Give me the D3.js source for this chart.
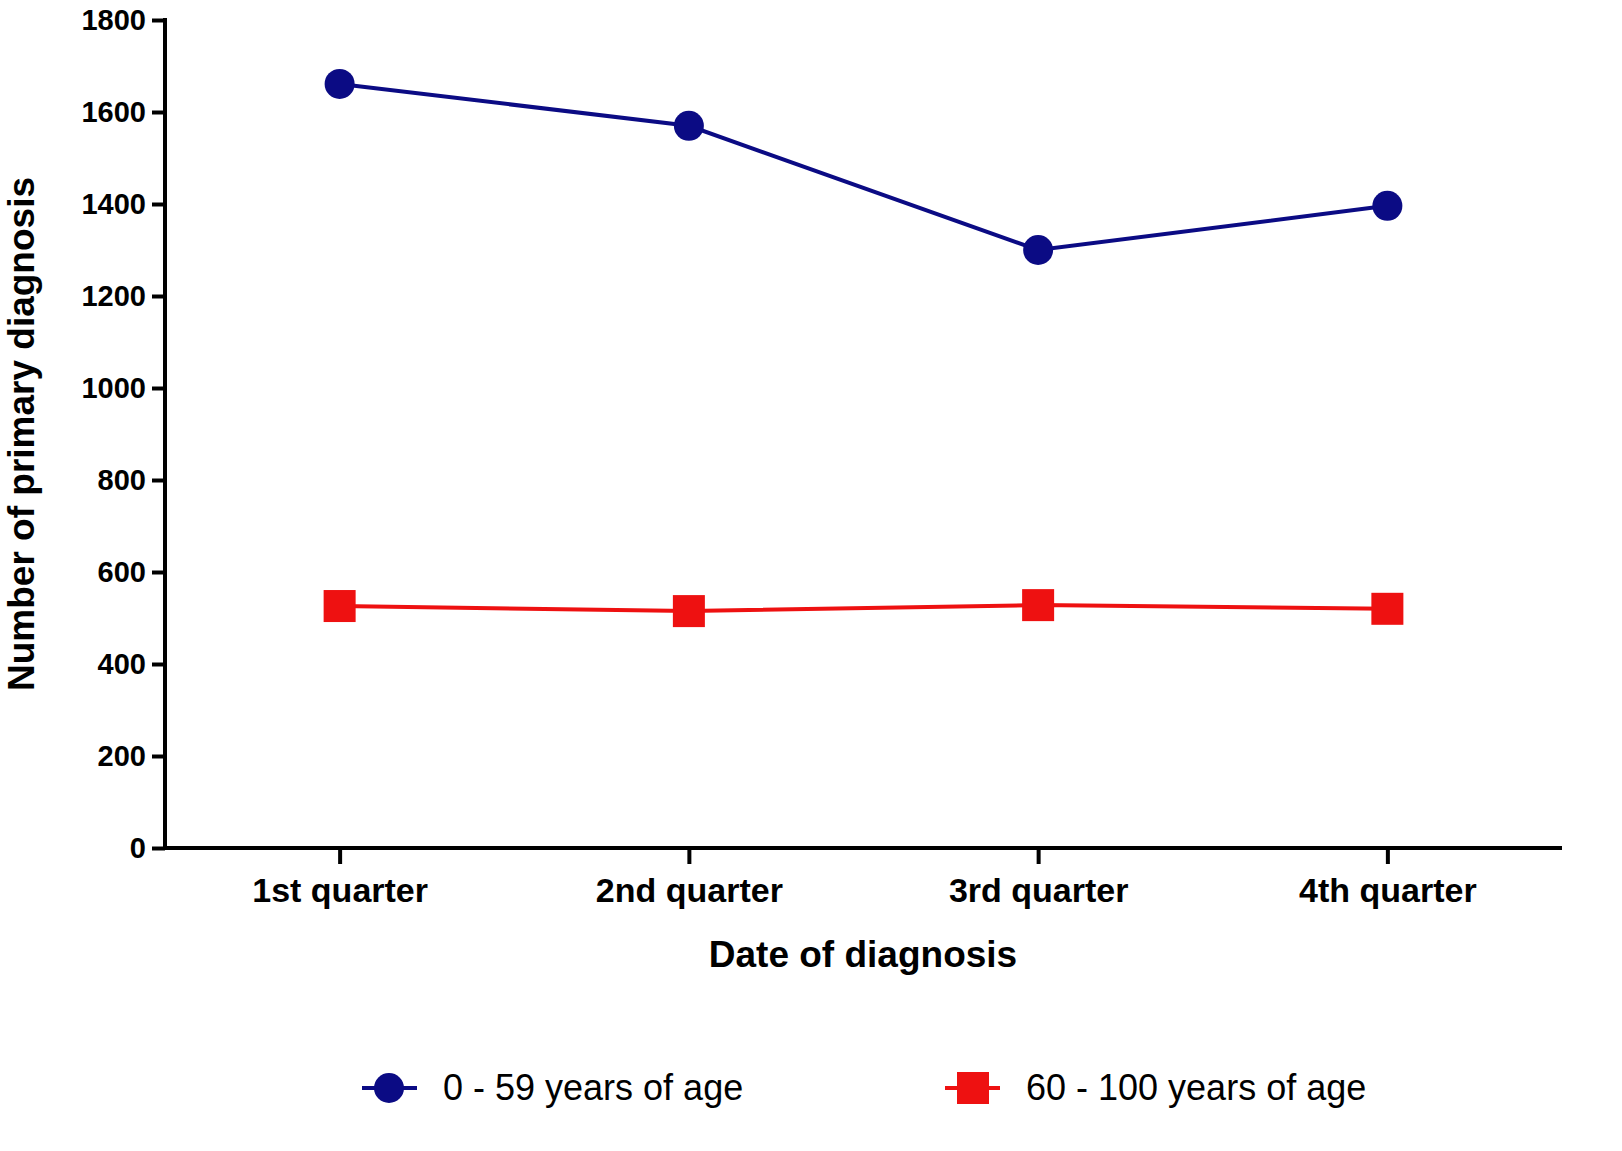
<!DOCTYPE html>
<html>
<head>
<meta charset="utf-8">
<script src="https://cdn.jsdelivr.net/npm/d3@7"></script>
<style>
  body { margin: 0; background: #fff; }
  text { font-family: "Liberation Sans", Arial, sans-serif; }
</style>
</head>
<body>
<svg id="chart" width="1622" height="1151"></svg>
<script>
// Data
const quarters = ["1st quarter", "2nd quarter", "3rd quarter", "4th quarter"];
const young = [1661, 1570, 1300, 1396];   // 0 - 59 years of age
const old = [526, 515, 528, 520];         // 60 - 100 years of age
const yTicks = [0, 200, 400, 600, 800, 1000, 1200, 1400, 1600, 1800];

const blue = "#0b0b84";
const red = "#ee1111";

const svg = d3.select("#chart");

// Scales
const x = d3.scalePoint().domain(quarters).range([165, 1562]).padding(0.5);
const y = d3.scaleLinear().domain([0, 1800]).range([848, 20]);

// Y axis
const yAxis = svg.append("g")
  .attr("transform", "translate(165,0)")
  .call(d3.axisLeft(y).tickValues(yTicks).tickFormat(d3.format("d")).tickSize(13).tickPadding(6));
yAxis.select(".domain").attr("stroke-width", 4).attr("d", "M0,18V850");
yAxis.selectAll(".tick line").attr("stroke-width", 4);
yAxis.selectAll(".tick text")
  .style("font-size", "29px").style("font-weight", "bold").attr("fill", "#000");

// X axis
const xAxis = svg.append("g")
  .attr("transform", "translate(0,848)")
  .call(d3.axisBottom(x).tickSize(16).tickPadding(14));
xAxis.select(".domain").attr("stroke-width", 4).attr("d", "M163,0H1562");
xAxis.selectAll(".tick line").attr("stroke-width", 4);
xAxis.selectAll(".tick text")
  .style("font-size", "34px").style("font-weight", "bold").attr("fill", "#000");

// Axis titles
svg.append("text")
  .attr("transform", "translate(34,434) rotate(-90)")
  .attr("text-anchor", "middle")
  .style("font-size", "37px").style("font-weight", "bold")
  .text("Number of primary diagnosis");

svg.append("text")
  .attr("x", 863).attr("y", 967)
  .attr("text-anchor", "middle")
  .style("font-size", "37px").style("font-weight", "bold")
  .text("Date of diagnosis");

// Lines
const line = d3.line().x((d, i) => x(quarters[i])).y(d => y(d));

svg.append("path").datum(young)
  .attr("fill", "none").attr("stroke", blue).attr("stroke-width", 4).attr("d", line);
svg.append("path").datum(old)
  .attr("fill", "none").attr("stroke", red).attr("stroke-width", 4).attr("d", line);

// Markers
svg.selectAll("circle.young").data(young).enter().append("circle")
  .attr("cx", (d, i) => x(quarters[i])).attr("cy", d => y(d))
  .attr("r", 15).attr("fill", blue);

const sq = 32;
svg.selectAll("rect.old").data(old).enter().append("rect")
  .attr("x", (d, i) => x(quarters[i]) - sq / 2).attr("y", d => y(d) - sq / 2)
  .attr("width", sq).attr("height", sq).attr("fill", red);

// Legend
const legend = [
  { label: "0 - 59 years of age", color: blue, shape: "circle", x: 362 },
  { label: "60 - 100 years of age", color: red, shape: "square", x: 945 }
];
const ly = 1088;
legend.forEach(l => {
  const g = svg.append("g");
  g.append("line").attr("x1", l.x).attr("x2", l.x + 55).attr("y1", ly).attr("y2", ly)
    .attr("stroke", l.color).attr("stroke-width", 4);
  if (l.shape === "circle") {
    g.append("circle").attr("cx", l.x + 27).attr("cy", ly).attr("r", 15).attr("fill", l.color);
  } else {
    g.append("rect").attr("x", l.x + 28 - sq / 2).attr("y", ly - sq / 2)
      .attr("width", sq).attr("height", sq).attr("fill", l.color);
  }
  g.append("text").attr("x", l.x + 81).attr("y", ly + 12)
    .style("font-size", "36px").text(l.label);
});
</script>
</body>
</html>
